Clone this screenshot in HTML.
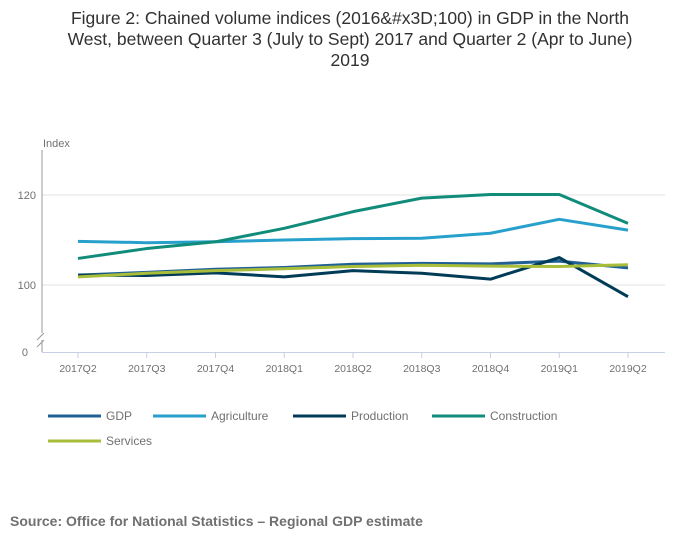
<!DOCTYPE html>
<html><head><meta charset="utf-8"><style>
body{margin:0;background:#fff;font-family:"Liberation Sans",sans-serif;}
#wrap{position:relative;width:700px;height:549px;overflow:hidden;}
#title{position:absolute;left:0;top:8px;width:700px;text-align:center;font-size:17.5px;line-height:21px;color:#323132;}
#source{position:absolute;left:10px;top:513px;font-size:14px;font-weight:bold;color:#707071;}
</style></head><body>
<div id="wrap">
<div id="title">Figure 2: Chained volume indices (2016&amp;#x3D;100) in GDP in the North<br>West, between Quarter 3 (July to Sept) 2017 and Quarter 2 (Apr to June)<br>2019</div>
<svg id="chart" width="700" height="549" style="position:absolute;left:0;top:0"></svg>
<div id="source">Source: Office for National Statistics – Regional GDP estimate</div>
</div>
<script>
const categories=["2017Q2","2017Q3","2017Q4","2018Q1","2018Q2","2018Q3","2018Q4","2019Q1","2019Q2"];
const gdp=[102.2,102.8,103.5,103.9,104.6,104.8,104.7,105.3,103.8];
const agriculture=[109.7,109.4,109.6,110.0,110.3,110.4,111.5,114.6,112.2];
const production=[102.2,102.1,102.7,101.8,103.2,102.6,101.3,106.1,97.4];
const construction=[105.9,108.1,109.6,112.6,116.3,119.3,120.1,120.1,113.7];
const services=[101.8,102.6,103.2,103.6,104.1,104.4,104.2,104.1,104.5];
const yTicks=[100,120];
const seriesNames=["GDP","Agriculture","Production","Construction","Services"];
const seriesData=[gdp,agriculture,production,construction,services];
const colors=["#206095","#27a0cc","#003c57","#118c7b","#a8bd3a"];
const NS="http://www.w3.org/2000/svg";
const svg=document.getElementById('chart');
function x(i){return 78+i*68.75;}
function y(v){return 285-(v-100)*4.5;}
function mk(t,a,p){const e=document.createElementNS(NS,t);for(const k in a)e.setAttribute(k,a[k]);(p||svg).appendChild(e);return e;}
// gridlines
yTicks.forEach(t=>{
 const g=mk('line',{x1:42,x2:665,y1:y(t),y2:y(t),stroke:'#e0e0e0','stroke-width':1});
 
 
 const l=mk('text',{x:36,y:y(t)+4,'text-anchor':'end','font-size':11,fill:'#707071'});
 l.textContent=t;
 
 
});
const z=mk('text',{x:28,y:356,'text-anchor':'end','font-size':11,fill:'#707071'});z.textContent='0';


const ya=mk('path',{d:'M42,150 V333 M42,340 V352',stroke:'#999',fill:'none'});


mk('path',{d:'M37,340 L44,333 M37,347 L44,340',stroke:'#999',fill:'none'});
const xa=mk('line',{x1:42,x2:665,y1:352.5,y2:352.5,stroke:'#c5d0e4'});


const yt=mk('text',{x:43,y:147,'font-size':11,fill:'#707071'});yt.textContent='Index';


categories.forEach((c,i)=>{
 mk('line',{x1:x(i),x2:x(i),y1:352,y2:358,stroke:'#c5d0e4'});
 const t=mk('text',{x:x(i),y:372,'text-anchor':'middle','font-size':10.5,fill:'#707071'});
 t.textContent=c;
 
 
});
seriesData.forEach((d,s)=>{
 const p=mk('polyline',{points:d.map((v,i)=>x(i)+','+y(v)).join(' '),fill:'none',stroke:colors[s],'stroke-width':3,'stroke-linejoin':'round'});
 
 
});
const lx=[48,153,293,432,48],ly=[416,416,416,416,441];
seriesNames.forEach((n,s)=>{
 const g=mk('g',{});
 
 
 mk('line',{x1:lx[s],x2:lx[s]+53,y1:ly[s],y2:ly[s],stroke:colors[s],'stroke-width':3},g);
 const t=mk('text',{x:lx[s]+58,y:ly[s]+4,'font-size':12,fill:'#707071'},g);t.textContent=n;
});
</script>
</body></html>
